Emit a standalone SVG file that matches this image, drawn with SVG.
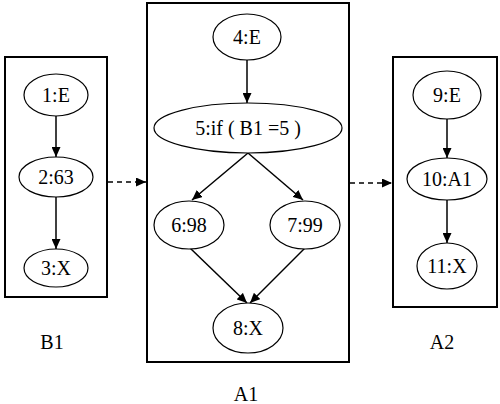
<svg xmlns="http://www.w3.org/2000/svg" width="500" height="404" viewBox="0 0 500 404">
<style>
.box{fill:none;stroke:#000;stroke-width:2}
.n{fill:#fff;stroke:#000;stroke-width:1.2}
.t{font-family:"Liberation Serif",serif;font-size:20px;fill:#000;text-anchor:middle}
.e{stroke:#000;stroke-width:1.5;fill:none;marker-end:url(#ah)}
.d{stroke:#000;stroke-width:1.5;fill:none;stroke-dasharray:5,4;marker-end:url(#ah)}
</style>
<defs>
<marker id="ah" viewBox="0 0 10 10" refX="10" refY="5" markerWidth="10" markerHeight="9" markerUnits="userSpaceOnUse" orient="auto" preserveAspectRatio="none">
<path d="M0,0 L10,5 L0,10 z" fill="#000"/>
</marker>
</defs>
<rect class="box" x="5" y="57" width="102" height="240"/>
<rect class="box" x="147" y="3" width="202" height="359"/>
<rect class="box" x="393" y="57" width="104" height="250"/>
<text class="t" x="52" y="349">B1</text>
<text class="t" x="246" y="401">A1</text>
<text class="t" x="442" y="349">A2</text>
<g id="connectors">
<line class="e" x1="56" y1="116" x2="56" y2="157"/>
<line class="e" x1="56" y1="197" x2="56" y2="249"/>
<line class="d" x1="108" y1="182" x2="146" y2="182"/>
<line class="e" x1="247" y1="60" x2="247" y2="103"/>
<line class="e" x1="248" y1="153" x2="192" y2="200"/>
<line class="e" x1="248" y1="153" x2="303" y2="200"/>
<line class="e" x1="190" y1="248" x2="247" y2="303"/>
<line class="e" x1="305" y1="248" x2="250" y2="303"/>
<line class="d" x1="350" y1="183" x2="392" y2="183"/>
<line class="e" x1="447" y1="119" x2="447" y2="158"/>
<line class="e" x1="447" y1="200" x2="447" y2="243"/>
</g>
<g id="n1"><ellipse class="n" cx="56" cy="95" rx="32" ry="21"/><text class="t" x="56" y="102">1:E</text></g>
<g id="n2"><ellipse class="n" cx="56" cy="177" rx="37" ry="20"/><text class="t" x="56" y="184">2:63</text></g>
<g id="n3"><ellipse class="n" cx="56" cy="268" rx="32" ry="19"/><text class="t" x="56" y="275">3:X</text></g>
<g id="n4"><ellipse class="n" cx="247" cy="37" rx="34" ry="23"/><text class="t" x="247" y="44">4:E</text></g>
<g id="n5"><ellipse class="n" cx="248" cy="128" rx="94" ry="25"/><text class="t" x="248" y="135">5:if ( B1 =5 )</text></g>
<g id="n6"><ellipse class="n" cx="189" cy="225" rx="35" ry="24"/><text class="t" x="189" y="232">6:98</text></g>
<g id="n7"><ellipse class="n" cx="305" cy="225" rx="35" ry="24"/><text class="t" x="305" y="232">7:99</text></g>
<g id="n8"><ellipse class="n" cx="248" cy="328" rx="35" ry="25"/><text class="t" x="248" y="335">8:X</text></g>
<g id="n9"><ellipse class="n" cx="447" cy="95" rx="34" ry="24"/><text class="t" x="447" y="102">9:E</text></g>
<g id="n10"><ellipse class="n" cx="447" cy="179" rx="40" ry="21"/><text class="t" x="447" y="186">10:A1</text></g>
<g id="n11"><ellipse class="n" cx="447" cy="266" rx="30" ry="23"/><text class="t" x="447" y="273">11:X</text></g>
</svg>
